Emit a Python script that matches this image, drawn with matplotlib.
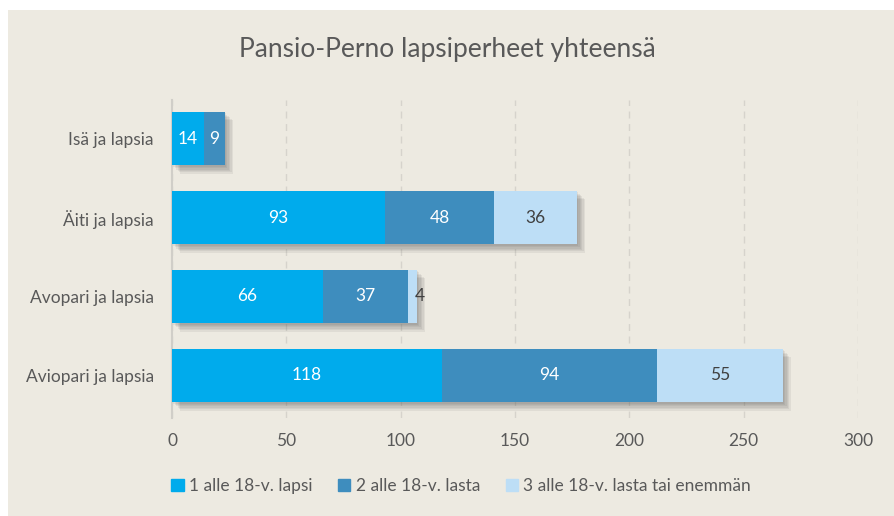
import matplotlib.pyplot as plt
import matplotlib.patches as mpatches
import matplotlib.patheffects as pe

plt.rcParams['font.family'] = ['Lato', 'DejaVu Sans']

# Data
categories = ['Isä ja lapsia', 'Äiti ja lapsia', 'Avopari ja lapsia', 'Aviopari ja lapsia']
one_child = [14, 93, 66, 118]
two_children = [9, 48, 37, 94]
three_plus = [0, 36, 4, 55]
series_names = ['1 alle 18-v. lapsi', '2 alle 18-v. lasta', '3 alle 18-v. lasta tai enemmän']
colors = ['#00ABEC', '#3E8DBE', '#BDDEF6']
text_colors = ['white', 'white', '#404040']

bg = '#EDEAE1'
fig = plt.figure(figsize=(8.94, 5.16), dpi=100)
fig.patch.set_facecolor('white')
fig.patches.append(mpatches.Rectangle((8 / 894, 0), 1, 1 - 10 / 516, transform=fig.transFigure,
                                      facecolor=bg, edgecolor='none', zorder=-5))

ax = fig.add_axes([172 / 894, 1 - 418 / 516, 686 / 894, 318 / 516])
ax.set_facecolor(bg)

ypos = [3, 2, 1, 0]
left = [0] * len(categories)
for vals, col, tc in zip([one_child, two_children, three_plus], colors, text_colors):
    bars = ax.barh(ypos, vals, left=left, height=0.68, color=col, zorder=3)
    for b, v, l in zip(bars, vals, left):
        if v > 0:
            x = l + v / 2 if v >= 8 else l + v + 1.5
            ax.text(x, b.get_y() + b.get_height() / 2, str(v), ha='center', va='center',
                    color=tc if v >= 8 else '#404040', fontsize=12.5, zorder=5)
    left = [a + b for a, b in zip(left, vals)]

# soft shadow for whole stacked bar
soft = [pe.SimplePatchShadow(offset=(d, -d), shadow_rgbFace='#555555', alpha=0.09)
        for d in (1, 2, 3, 4, 5, 6)]
for y, total in zip(ypos, left):
    r = mpatches.Rectangle((0, y - 0.34), total, 0.68, facecolor=bg, edgecolor='none', zorder=2)
    r.set_path_effects(soft)
    ax.add_patch(r)

ax.set_xlim(0, 300)
ax.set_ylim(-0.54, 3.49)
ax.set_yticks(ypos)
ax.set_yticklabels(categories, fontsize=12.5, color='#595959')
ax.set_xticks(range(0, 301, 50))
ax.tick_params(axis='x', labelsize=12.5, labelcolor='#595959', length=0, pad=11)
ax.tick_params(axis='y', length=0, pad=13)
ax.grid(axis='x', color='#D6D3CC', linestyle=(0, (5, 4)), linewidth=1, zorder=0)
for s in ['top', 'right', 'bottom']:
    ax.spines[s].set_visible(False)
ax.spines['left'].set_color('#D0CEC8')
ax.spines['left'].set_linewidth(1.5)

fig.text(0.5, 1 - 50 / 516, 'Pansio-Perno lapsiperheet yhteensä', ha='center', va='center',
         fontsize=19, color='#595959')

handles = [mpatches.Patch(color=c, label=n) for c, n in zip(colors, series_names)]
fig.legend(handles=handles, loc='center', bbox_to_anchor=(0.516, 1 - 486 / 516), ncol=3, frameon=False,
           fontsize=12.5, handlelength=0.7, handleheight=0.7, handletextpad=0.3, columnspacing=1.5,
           labelcolor='#595959')

fig.savefig('out.png', dpi=100, facecolor=fig.get_facecolor())
